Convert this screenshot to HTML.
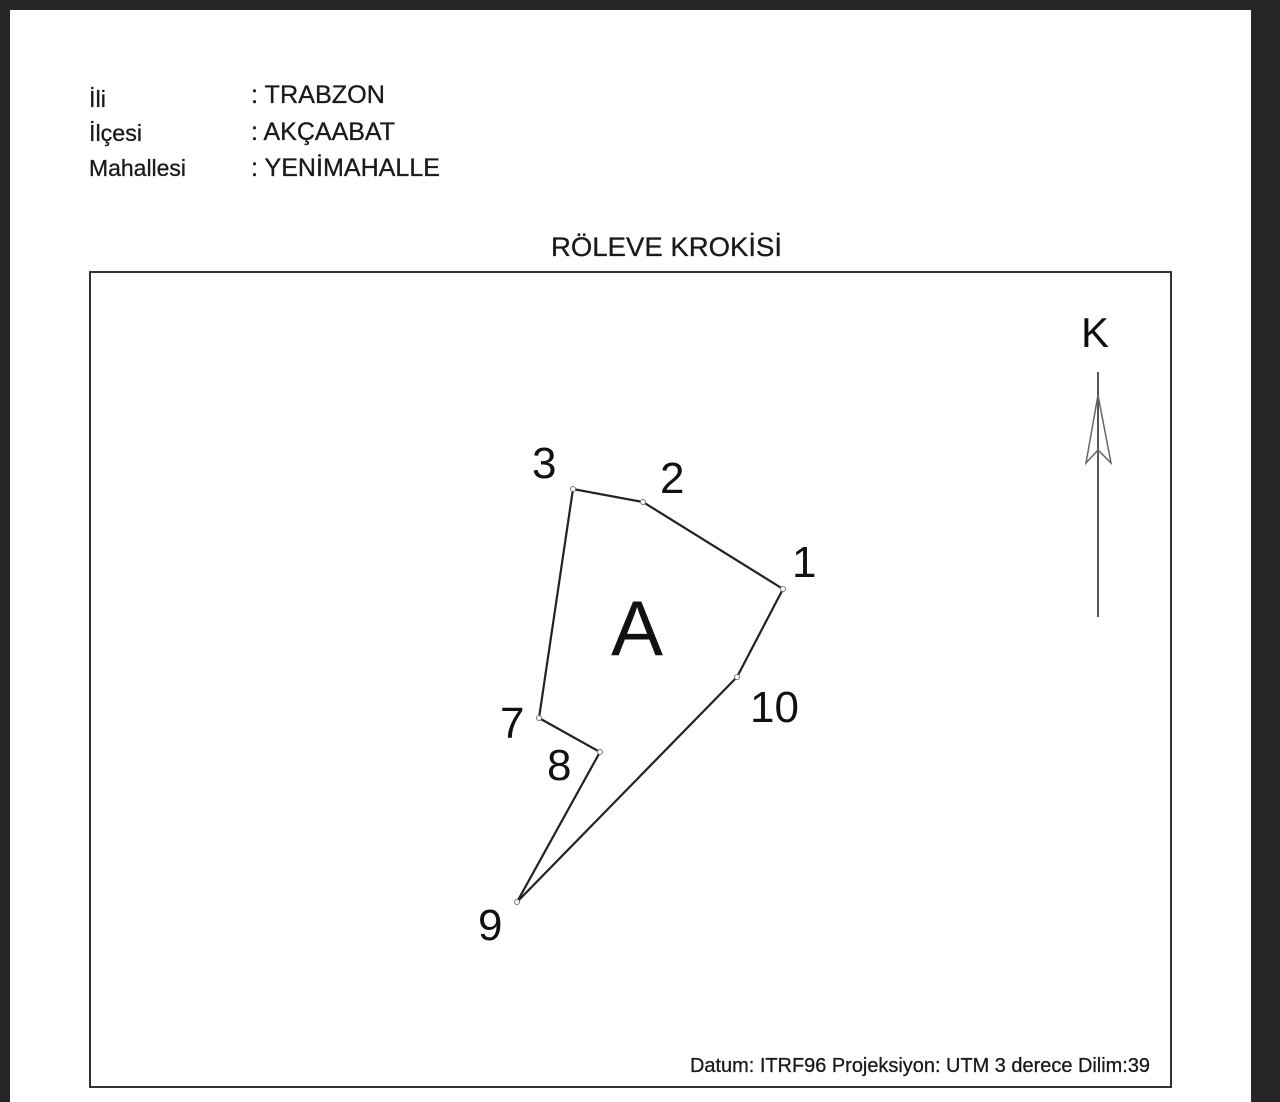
<!DOCTYPE html>
<html><head><meta charset="utf-8"><style>
html,body{margin:0;padding:0;background:#262626;width:1280px;height:1102px;overflow:hidden}
</style></head><body>
<svg width="1280" height="1102" xmlns="http://www.w3.org/2000/svg" style="position:absolute;left:0;top:0">
<rect x="10" y="10" width="1241" height="1092" fill="#fff"/>
<g font-family="Liberation Sans, sans-serif" fill="#1a1a1a" stroke="#1a1a1a" stroke-width="0.3" lengthAdjust="spacingAndGlyphs">
<text x="89" y="107" font-size="23" textLength="17" lengthAdjust="spacingAndGlyphs">İli</text>
<text x="89" y="141" font-size="23" textLength="53" lengthAdjust="spacingAndGlyphs">İlçesi</text>
<text x="89" y="176" font-size="23" textLength="97" lengthAdjust="spacingAndGlyphs">Mahallesi</text>
<text x="251" y="103" font-size="25" textLength="134" lengthAdjust="spacingAndGlyphs">: TRABZON</text>
<text x="251" y="140" font-size="25" textLength="144" lengthAdjust="spacingAndGlyphs">: AKÇAABAT</text>
<text x="251" y="176" font-size="25" textLength="189" lengthAdjust="spacingAndGlyphs">: YENİMAHALLE</text>
<text x="551" y="256" font-size="27" textLength="231" lengthAdjust="spacingAndGlyphs">RÖLEVE KROKİSİ</text>
<text x="690" y="1072" font-size="20" textLength="460" lengthAdjust="spacingAndGlyphs">Datum: ITRF96 Projeksiyon: UTM 3 derece Dilim:39</text>
</g>
<rect x="90" y="272" width="1081" height="815" fill="none" stroke="#333" stroke-width="2"/>
<text x="1095" y="347" font-family="Liberation Sans, sans-serif" font-size="42" text-anchor="middle" fill="#111">K</text>
<line x1="1098" y1="372" x2="1098" y2="617" stroke="#555" stroke-width="2"/>
<path d="M1098 395 L1086 463 L1098 450 L1111 463 Z" fill="none" stroke="#666" stroke-width="1.5"/>
<polygon points="783,589 643,502 573,489 539,718 600,752 517,902 737,677" fill="none" stroke="#222" stroke-width="2.2"/>
<g fill="#fff" stroke="#777" stroke-width="1">
<circle cx="783" cy="589" r="2.5"/><circle cx="643" cy="502" r="2.5"/><circle cx="573" cy="489" r="2.5"/><circle cx="539" cy="718" r="2.5"/><circle cx="600" cy="752" r="2.5"/><circle cx="517" cy="902" r="2.5"/><circle cx="737" cy="677" r="2.5"/>
</g>
<g font-family="Liberation Sans, sans-serif" font-size="44" fill="#111">
<text x="532" y="478">3</text>
<text x="660" y="493">2</text>
<text x="792" y="577">1</text>
<text x="750" y="722">10</text>
<text x="500" y="738">7</text>
<text x="547" y="780">8</text>
<text x="478" y="940">9</text>
<text x="611" y="655" font-size="78">A</text>
</g>
</svg>
</body></html>
